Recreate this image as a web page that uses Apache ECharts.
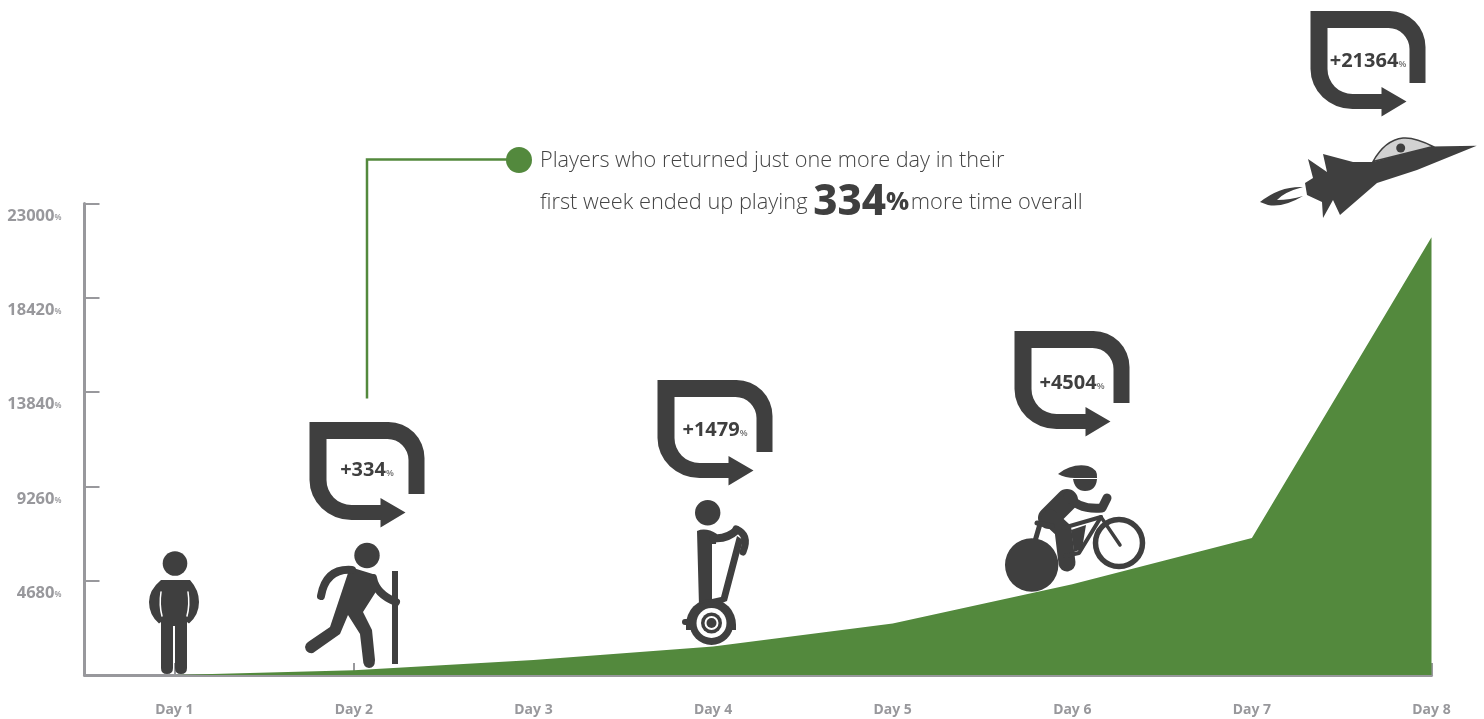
<!DOCTYPE html>
<html>
<head>
<meta charset="utf-8">
<title>Day retention chart</title>
<style>
  html, body { margin: 0; padding: 0; background: #fff; }
  #main { width: 1484px; height: 719px; }
</style>
<script src="https://cdn.jsdelivr.net/npm/echarts@6/dist/echarts.min.js"></script>
</head>
<body>
<div id="main"></div>
<script>
var days = ['Day 1', 'Day 2', 'Day 3', 'Day 4', 'Day 5', 'Day 6', 'Day 7', 'Day 8'];
var playTime = [100, 334, 830, 1479, 2600, 4504, 6750, 21364];
var yTicks = [4680, 9260, 13840, 18420, 23000];
var gainLabels = ['+334', '+1479', '+4504', '+21364'];

var GREEN = '#53893d';
var DARK = '#3f3f3f';
var GREY = '#98989c';
var FONT = '"Noto Sans", sans-serif';

// the loop arrow drawn around each gain number
var calloutPath = 'M0,0 L79,0 A36,36 0 0 1 115,36 L115,72 L99,72 L99,38 A21,21 0 0 0 78,17 L17,17 L17,58 A25,25 0 0 0 42,83 L71,83 L71,76 L96,90.5 L71,105.5 L71,98 L42,98 A42,40 0 0 1 0,58 Z';
var calloutPos = [[309.5, 422], [657.5, 380], [1014.5, 331], [1310.5, 11]];
var gainTextPos = [[367, 470], [715, 430], [1072, 383], [1368, 61]];

function fillShape(d, color) {
  return { type: 'path', silent: true, shape: { pathData: d }, style: { fill: color || DARK } };
}
function strokeShape(d, w, color) {
  return { type: 'path', silent: true, shape: { pathData: d }, style: { fill: 'none', stroke: color || DARK, lineWidth: w, lineCap: 'round', lineJoin: 'round' } };
}
function dot(cx, cy, r, color) {
  return { type: 'circle', silent: true, shape: { cx: cx, cy: cy, r: r }, style: { fill: color || DARK } };
}

var standing = [
  dot(175, 563.5, 12.3),
  fillShape('M161,580 L190,580 Q199,590 199,602 Q199,615 189,623.5 L187,622 L187,668 Q187,674 181,674 Q175,674 175,668 L175,626 L173,626 L173,668 Q173,674 167,674 Q161,674 161,668 L161,622 L159,623.5 Q149,615 149,602 Q149,590 161,580 Z'),
  strokeShape('M161,592 Q159,605 162,616', 1.5, '#fff'),
  strokeShape('M188,592 Q190,605 187,616', 1.5, '#fff')
];

var hiker = [
  dot(367, 555.5, 12.7),
  fillShape('M350,567 L376,575 L377,590 L363,612 L372,630 L375,660 Q375,668 369,668 Q363,667 363,660 L360,634 L348,615 L340,634 L313,653 Q306,654 305,647 Q305,644 308,642 L330,627 Z'),
  strokeShape('M352,570 Q326,568 321,596', 8),
  strokeShape('M373,578 Q376,594 396,602', 8),
  fillShape('M392,571 L398,571 L398,664 L392,664 Z')
];

var segway = [
  dot(707.7, 512.7, 12.7),
  fillShape('M697,531 Q706,527 717,534 L716,544 L712,544 L712,575 L712,603 L699,606 Z'),
  strokeShape('M713,538 Q726,540 737,530', 8),
  strokeShape('M736,529 Q750,535 743,552', 7),
  fillShape('M737,536 L743,540 L727,601 L712,607 L712,599 L721,597 Z'),
  fillShape('M686,625 A25,26 0 0 1 736,625 L736,630 L686,630 Z'),
  strokeShape('M685,622 L692,622', 6),
  dot(711.5, 623, 22),
  dot(711.5, 623, 15, '#fff'),
  dot(711.5, 623, 10.5),
  dot(711.5, 623, 7, '#fff'),
  dot(711.5, 623, 5)
];

var cyclist = [
  fillShape('M1058,474 Q1072,463 1088,466 Q1098,469 1097,478 L1075,478 Q1065,478 1058,474 Z'),
  fillShape('M1073,479 L1097,479 Q1096,491 1085,491 Q1075,491 1073,479 Z'),
  strokeShape('M1067,500 L1049,518', 22),
  strokeShape('M1050,518 L1063,530 L1067,563', 17),
  strokeShape('M1068,496 Q1078,510 1102,508 L1107,498', 9),
  strokeShape('M1101,517 L1120,545', 3.5),
  strokeShape('M1063,528 L1101,517', 4),
  strokeShape('M1101,517 L1079,553 L1065,556', 4),
  fillShape('M1071,530 L1086,525 L1082,549 L1074,552 Z'),
  strokeShape('M1040,524 L1033,548', 5),
  strokeShape('M1037,523 L1052,526', 5),
  { type: 'circle', silent: true, shape: { cx: 1119, cy: 543, r: 23.5 }, style: { fill: 'none', stroke: DARK, lineWidth: 5.5 } },
  dot(1031.7, 565, 26.7)
];

var jet = [
  fillShape('M1476.7,145.7 L1431,146.5 L1373,162 L1353,162 L1323,154 L1327,172 L1308,159 L1313,178 L1305,183 L1307,195 L1322,202 L1323,218 L1333,200 L1340,215 L1377,183 L1417,170 Z'),
  { type: 'path', silent: true, shape: { pathData: 'M1373,161.5 Q1385,140 1403,138 Q1415,137 1433,146.5 Z' }, style: { fill: '#d2d2d2', stroke: DARK, lineWidth: 1.5 } },
  dot(1400.7, 148, 4.5),
  fillShape('M1260,202 Q1280,186 1303,187 Q1284,192 1277,200 Q1290,200 1303,196 Q1283,208 1268,205 Z')
];

// the graphic component has no path type, so icons go through a custom series
function renderIcons(params) {
  if (params.dataIndex !== 0) return null;
  var callouts = calloutPos.map(function (p) {
    return { type: 'path', silent: true, x: p[0], y: p[1], shape: { pathData: calloutPath }, style: { fill: DARK } };
  });
  return { type: 'group', silent: true, children: callouts.concat(standing, hiker, segway, cyclist, jet) };
}

function buildGraphics() {
  var els = [];
  // connector and dot leading to the note
  els.push({
    type: 'polyline', silent: true,
    shape: { points: [[367, 398.5], [367, 159.5], [510, 159.5]] },
    style: { fill: 'none', stroke: GREEN, lineWidth: 2.5 }
  });
  els.push(dot(519, 160, 13, GREEN));

  els.push({
    type: 'text', silent: true, x: 540, y: 161,
    style: { text: 'Players who returned just one more day in their', font: '300 21.7px "Open Sans", sans-serif', fill: '#444', verticalAlign: 'middle' }
  });
  els.push({
    type: 'text', silent: true, x: 540, y: 203,
    style: {
      text: 'first week ended up playing {big|334}{pct|%}{gap| }more time overall',
      font: '300 21.8px "Open Sans", sans-serif', fill: '#444', verticalAlign: 'middle',
      rich: {
        big: { font: '800 42px "Noto Sans", sans-serif', fill: DARK },
        pct: { font: '800 25px "Noto Sans", sans-serif', fill: DARK },
        gap: { font: '300 7px "Open Sans", sans-serif' }
      }
    }
  });

  gainLabels.forEach(function (label, i) {
    els.push({
      type: 'text', silent: true, z: 10, x: gainTextPos[i][0], y: gainTextPos[i][1],
      style: {
        text: label + '{s|%}', font: '700 20px ' + FONT, fill: DARK, align: 'center', verticalAlign: 'middle',
        rich: { s: { font: '600 9px ' + FONT, fill: '#777', padding: [6, 0, 0, 0] } }
      }
    });
  });
  return els;
}

var chart = echarts.init(document.getElementById('main'), null, { renderer: 'canvas' });

var option = {
  animation: false,
  backgroundColor: '#fff',
  grid: { left: 84.5, right: 52.5, top: 203.5, bottom: 44, containLabel: false },
  xAxis: {
    type: 'value',
    min: 0.5,
    max: 8,
    splitLine: { show: false },
    axisLine: { show: true, onZero: false, lineStyle: { color: GREY, width: 3 } },
    axisTick: {
      show: true, inside: true, length: 12,
      customValues: days.map(function (d, i) { return i + 1; }),
      lineStyle: { color: GREY, width: 2 }
    },
    axisLabel: {
      margin: 28,
      color: GREY,
      fontFamily: FONT,
      fontWeight: 700,
      fontSize: 14,
      customValues: days.map(function (d, i) { return i + 1; }),
      formatter: function (v) { return days[v - 1]; }
    }
  },
  yAxis: {
    type: 'value',
    min: 100,
    max: 23000,
    splitLine: { show: false },
    axisLine: { show: true, onZero: false, lineStyle: { color: GREY, width: 3 } },
    axisTick: {
      show: true, inside: true, length: 15,
      customValues: yTicks,
      lineStyle: { color: GREY, width: 2 }
    },
    axisLabel: {
      margin: 23,
      customValues: yTicks,
      verticalAlign: 'top',
      formatter: function (v) { return '{n|' + v + '}{p|%}'; },
      rich: {
        n: { color: GREY, fontFamily: FONT, fontWeight: 700, fontSize: 16.5, lineHeight: 25 },
        p: { color: GREY, fontFamily: FONT, fontWeight: 600, fontSize: 8, lineHeight: 25, padding: [3, 0, 0, 0] }
      }
    }
  },
  series: [{
    type: 'line',
    silent: true,
    symbol: 'none',
    lineStyle: { width: 0 },
    areaStyle: { color: GREEN, opacity: 1 },
    data: playTime.map(function (v, i) { return [i + 1, v]; })
  }, {
    type: 'custom',
    silent: true,
    z: 5,
    clip: false,
    renderItem: renderIcons,
    data: [[1, 100]]
  }],
  graphic: { elements: buildGraphics() }
};
chart.setOption(option);
</script>
</body>
</html>
